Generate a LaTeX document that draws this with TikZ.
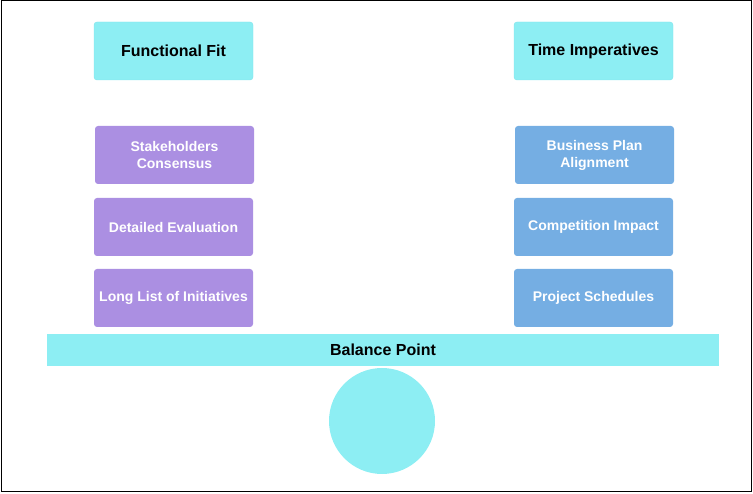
\documentclass[tikz,border=0pt]{standalone}
\usepackage{fontspec}
\setmainfont{Liberation Sans}
\definecolor{fitcyan}{HTML}{8DEEF3}
\definecolor{fitedge}{HTML}{7FE4EC}
\definecolor{leftpurple}{HTML}{AB8FE2}
\definecolor{rightblue}{HTML}{75AEE3}
\begin{document}
\begin{tikzpicture}[x=1pt,y=-1pt,
  headbox/.style={draw=fitedge, fill=fitcyan, rounded corners=3pt, minimum width=159pt, minimum height=58pt, inner sep=0pt, font=\bfseries\fontsize{16}{18}\selectfont},
  itembox/.style={rounded corners=3pt, minimum width=159pt, minimum height=58pt, inner sep=0pt, text=white, align=center, font=\bfseries\fontsize{14}{17}\selectfont},
  leftbox/.style={itembox, fill=leftpurple},
  rightbox/.style={itembox, fill=rightblue}]
  \useasboundingbox (0,0) rectangle (753,494);
  \draw[black, line width=1pt] (1,1) rectangle (751,491);
	\node[headbox] (fit) at (173.5,51) {Functional Fit};
	\node[headbox] (time) at (593.5,51) {Time Imperatives};
	\node[leftbox] (consensus) at (174.5,155) {Stakeholders\\Consensus};
	\node[leftbox] (evaluation) at (173.5,227) {Detailed Evaluation};
	\node[leftbox] (longlist) at (173.5,298) {Long List of Initiatives};
	\node[rightbox] (alignment) at (594.5,155) {Business Plan\\Alignment};
	\node[rightbox] (competition) at (593.5,227) {Competition Impact};
	\node[rightbox] (schedules) at (593.5,298) {Project Schedules};
	\node[fill=fitcyan, minimum width=672pt, minimum height=32pt, inner sep=0pt, font=\bfseries\fontsize{16}{18}\selectfont] (balance) at (383,350) {Balance Point};
	\node[circle, fill=fitcyan, minimum size=106pt, inner sep=0pt] (pivot) at (382,421) {};
\end{tikzpicture}
\end{document}
